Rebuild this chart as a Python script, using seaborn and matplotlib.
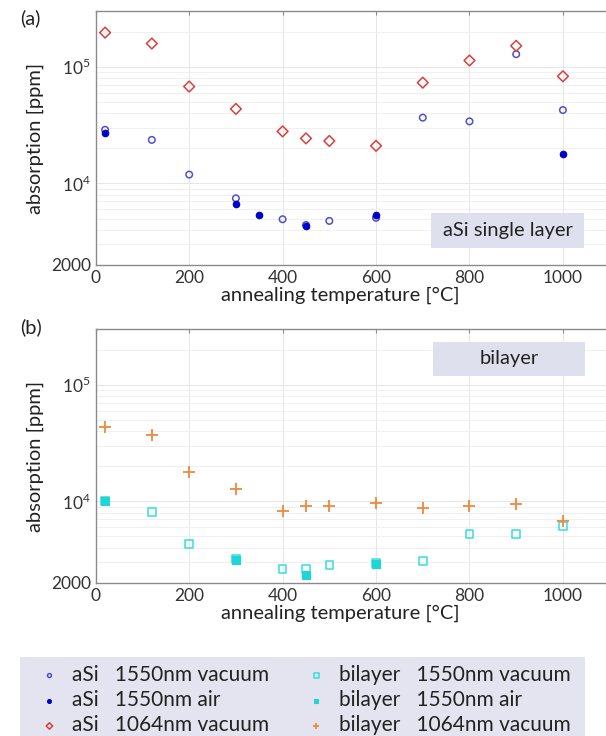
import numpy as np
import pandas as pd
import matplotlib
matplotlib.use("Agg")
import matplotlib.pyplot as plt
import matplotlib.ticker as mticker
from matplotlib.patches import Rectangle
import seaborn as sns

# panel (a): aSi single layer
asi_vac_t = [20, 120, 200, 300, 400, 450, 500, 600, 700, 800, 900, 1000]
asi_vac_1550 = [28800, 23600, 11900, 7450, 4930, 4400, 4770, 5070, 36600, 34000, 128000, 42500]
asi_air_t = [20, 300, 350, 450, 600, 1000]
asi_air_1550 = [27200, 6630, 5410, 4280, 5370, 17700]
asi_1064_t = [20, 120, 200, 300, 400, 450, 500, 600, 700, 800, 900, 1000]
asi_vac_1064 = [196000, 158000, 67600, 43500, 27900, 24300, 23100, 21000, 73000, 113000, 151000, 82800]

# panel (b): bilayer
bi_vac_t = [20, 120, 200, 300, 400, 450, 500, 600, 700, 800, 900, 1000]
bi_vac_1550 = [10100, 8120, 4290, 3190, 2620, 2620, 2860, 2950, 3070, 5250, 5270, 6140]
bi_air_t = [20, 300, 450, 600]
bi_air_1550 = [10000, 3130, 2350, 2920]
bi_1064_t = [20, 120, 200, 300, 400, 450, 500, 600, 700, 800, 900, 1000]
bi_vac_1064 = [43400, 37100, 18000, 12800, 8220, 9080, 9130, 9740, 8780, 9190, 9550, 6770]

sns.set_style("white")
plt.rcParams["font.family"] = ["Lato", "DejaVu Sans"]
plt.rcParams["mathtext.fontset"] = "custom"
plt.rcParams["mathtext.rm"] = "Lato"

fig = plt.figure(figsize=(6.06, 7.36), dpi=100)
ax_a = fig.add_axes([0.158, 0.640, 0.848, 0.345])
ax_b = fig.add_axes([0.158, 0.208, 0.848, 0.345])

series_a = [
    (asi_vac_t, asi_vac_1550, "o", "#5050c8", False, "aSi   1550nm vacuum", 22),
    (asi_air_t, asi_air_1550, "o", "#0000cc", True, "aSi   1550nm air", 22),
    (asi_1064_t, asi_vac_1064, "D", "#d8403c", False, "aSi   1064nm vacuum", 30),
]
series_b = [
    (bi_vac_t, bi_vac_1550, "s", "#33dede", False, "bilayer   1550nm vacuum", 30),
    (bi_air_t, bi_air_1550, "s", "#1ed6d6", True, "bilayer   1550nm air", 30),
    (bi_1064_t, bi_vac_1064, "+", "#ec8a3e", None, "bilayer   1064nm vacuum", 70),
]

for ax, series in [(ax_a, series_a), (ax_b, series_b)]:
    for t, v, m, c, filled, lab, s in series:
        df = pd.DataFrame({"t": t, "v": v})
        if filled is None:
            sns.scatterplot(data=df, x="t", y="v", ax=ax, marker=m, color=c,
                            s=s, linewidth=1.3, label=lab, zorder=3)
        elif filled:
            sns.scatterplot(data=df, x="t", y="v", ax=ax, marker=m, color=c,
                            edgecolor=c, s=s, linewidth=0.8, label=lab, zorder=3)
        else:
            sns.scatterplot(data=df, x="t", y="v", ax=ax, marker=m, color=c,
                            facecolor="none", edgecolor=c, s=s, linewidth=1.1,
                            label=lab, zorder=3)

for ax in [ax_a, ax_b]:
    ax.set_yscale("log")
    ax.set_ylim(2000, 3e5)
    ax.set_xlim(0, 1100)
    ax.set_xticks([0, 200, 400, 600, 800, 1000])
    ax.yaxis.set_major_locator(mticker.FixedLocator([2000, 1e4, 1e5]))
    ax.yaxis.set_major_formatter(mticker.FixedFormatter(["2000", r"$10^4$", r"$10^5$"]))
    ax.yaxis.set_minor_locator(mticker.LogLocator(base=10, subs=np.arange(2, 10)))
    ax.yaxis.set_minor_formatter(mticker.NullFormatter())
    ax.grid(True, which="major", color="#e6e6e6", lw=0.7)
    ax.grid(True, which="minor", axis="y", color="#eeeeee", lw=0.6)
    ax.set_axisbelow(True)
    for side in ["top", "left", "bottom"]:
        ax.spines[side].set_color("#8a8a8a")
        ax.spines[side].set_linewidth(1.0)
    ax.spines["right"].set_visible(False)
    ax.tick_params(axis="both", which="major", labelsize=12.5, colors="#8a8a8a",
                   labelcolor="#333333", direction="in", length=3, top=True, left=False)
    ax.tick_params(axis="y", which="minor", left=False)
    ax.set_xlabel("annealing temperature [°C]", fontsize=14.5, color="#222222")
    ax.xaxis.set_label_coords((341 - 96) / 514, -0.085)
    ax.set_ylabel("absorption [ppm]", fontsize=14.5, color="#222222", labelpad=5)
    ax.get_legend().remove()

# label boxes
ax_a.add_patch(Rectangle((0.652, 0.067), 0.299, 0.138, transform=ax_a.transAxes,
                         facecolor="#dfe0ee", edgecolor="none", zorder=2))
ax_a.text(0.8015, 0.136, "aSi single layer", transform=ax_a.transAxes, ha="center",
          va="center", fontsize=14.5, color="#222222", zorder=4)
ax_b.add_patch(Rectangle((0.656, 0.815), 0.296, 0.134, transform=ax_b.transAxes,
                         facecolor="#dfe0ee", edgecolor="none", zorder=2))
ax_b.text(0.804, 0.882, "bilayer", transform=ax_b.transAxes, ha="center",
          va="center", fontsize=14.5, color="#222222", zorder=4)

fig.text(20 / 606, 1 - 18 / 736, "(a)", fontsize=14.5, ha="left", va="center", color="#222222")
fig.text(20 / 606, 1 - 327 / 736, "(b)", fontsize=14.5, ha="left", va="center", color="#222222")

# legend background and two legend columns
fig.patches.append(Rectangle((20 / 606, 0.0), 565 / 606, 79 / 736, transform=fig.transFigure,
                             facecolor="#e3e4f0", edgecolor="none", zorder=0))
h_a, l_a = ax_a.get_legend_handles_labels()
h_b, l_b = ax_b.get_legend_handles_labels()
for hs, ls, x0 in [(h_a, l_a, 38 / 606), (h_b, l_b, 305 / 606)]:
    leg = fig.legend(hs, ls, loc="upper left", bbox_to_anchor=(x0, 1 - 665 / 736),
                     fontsize=15, frameon=False, markerscale=0.6,
                     handlelength=1.1, handletextpad=0.55, labelspacing=0.25,
                     borderaxespad=0.0, borderpad=0.0)
    for t in leg.get_texts():
        t.set_color("#222222")

fig.savefig("out.png", dpi=100)
